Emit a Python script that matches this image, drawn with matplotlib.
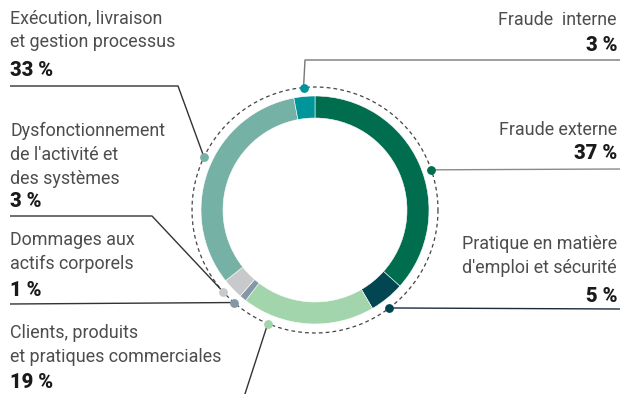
import numpy as np
import matplotlib.pyplot as plt

# risk categories, clockwise from the top of the ring
categories = [
    "Fraude externe",
    "Pratique en matière\nd'emploi et sécurité",
    "Clients, produits\net pratiques commerciales",
    "Dommages aux\nactifs corporels",
    "Dysfonctionnement\nde l'activité et\ndes systèmes",
    "Exécution, livraison\net gestion processus",
    "Fraude  interne",
]
shares = [37, 5, 19, 1, 3, 33, 3]
pct_labels = ["37 %", "5 %", "19 %", "1 %", "3 %", "33 %", "3 %"]
colors = ["#006E4E", "#014651", "#A2D5AB", "#8497A6", "#C8C9CB", "#76B1A5", "#00959B"]

W, H = 622, 394
CX, CY = 315, 210
R_OUT, RING, R_DOT = 114, 22, 123

fig = plt.figure(figsize=(W / 100, H / 100), dpi=100)
ax = fig.add_axes([0, 0, 1, 1])

# y axis is inverted below, so counterclock in data = clockwise on screen
ax.pie(shares, colors=colors, startangle=-90, counterclock=True,
       center=(CX, CY), radius=R_OUT, frame=True,
       wedgeprops=dict(width=RING, edgecolor="white", linewidth=0.4))
ax.set_xlim(0, W)
ax.set_ylim(H, 0)  # pixel-like coords, y down
ax.set_aspect("equal")
ax.axis("off")

t = np.linspace(0, 2 * np.pi, 400)
ax.plot(CX + R_DOT * np.cos(t), CY + R_DOT * np.sin(t), color="#444444",
        lw=0.9, dashes=(3, 2.5))

# dot angles: midpoint of each slice (degrees clockwise from top), small nudges
total = sum(shares)
cum = np.cumsum([0] + shares)
mid = [(cum[i] + shares[i] / 2) / total * 360 for i in range(len(shares))]
nudge = [5, 2, 19, 2, 2, 5, 0]
dots = []
for m, n in zip(mid, nudge):
    a = np.radians(m + n)
    dots.append((CX + R_DOT * np.sin(a), CY - R_DOT * np.cos(a)))

# label layout: side, first text line y, pct y, rule y, leader path
layout = [
    ("R", 130, 153, 169, [(620, 169)]),
    ("R", 244, 297, 309, [(620, 309)]),
    ("L", 333, 383, None, [(243, 400)]),
    ("L", 240, 290, 304, [(10, 304)]),
    ("L", 131, 201, 216, [(152, 216), (10, 216)]),
    ("L", 18, 70, 86, [(178, 86), (10, 86)]),
    ("R", 20, 45, 60, [(305, 60), (620, 60)]),
]
line_cols = ["#8a8a8a", "#1d2b3a", "#333333", "#333333", "#333333", "#333333", "#777777"]
step = 24

for i, (side, y0, yp, yr, path) in enumerate(layout):
    x = 10 if side == "L" else 617
    ha = "left" if side == "L" else "right"
    for k, ln in enumerate(categories[i].split("\n")):
        ax.text(x, y0 + k * step, ln, ha=ha, va="center", fontsize=12.9,
                family="Roboto", color="#4d4d4d")
    ax.text(x, yp, pct_labels[i], ha=ha, va="center", fontsize=14.5,
            family="Roboto", fontweight="black", color="#1a1a1a")
    pts = [dots[i]] + path
    ax.plot([p[0] for p in pts], [p[1] for p in pts], color=line_cols[i],
            lw=1.0, solid_capstyle="butt", zorder=2)
    ax.scatter(*dots[i], s=40, color=colors[i], zorder=4, linewidths=0)

fig.savefig("out.png", dpi=100)
